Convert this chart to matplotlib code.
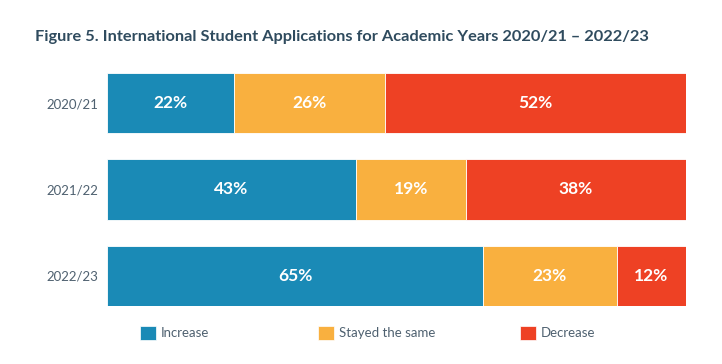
import matplotlib
matplotlib.use("Agg")
import matplotlib.pyplot as plt
from matplotlib.patches import Patch

plt.rcParams['font.family'] = ['Lato', 'DejaVu Sans']

years = ["2020/21", "2021/22", "2022/23"]
series_names = ["Increase", "Stayed the same", "Decrease"]
increase = [22, 43, 65]
stayed = [26, 19, 23]
decrease = [52, 38, 12]
colors = ["#1a8ab6", "#f9b03f", "#ee4124"]

fig = plt.figure(figsize=(7.22, 3.64), dpi=100)
ax = fig.add_axes([107/722, 1-306/364, (686-107)/722, (306-73)/364])

left = [0, 0, 0]
for vals, col, name in zip([increase, stayed, decrease], colors, series_names):
    ax.barh(years, vals, left=left, color=col, height=0.7,
            edgecolor="white", linewidth=0.6, label=name)
    for i, (v, l) in enumerate(zip(vals, left)):
        ax.text(l + v / 2, i, f"{v}%", ha="center", va="center",
                color="white", fontsize=12.5, fontweight="bold")
    left = [a + b for a, b in zip(left, vals)]

ax.set_xlim(0, 100)
ax.set_ylim(2.35, -0.35)
ax.set_xticks([])
for s in ax.spines.values():
    s.set_visible(False)
ax.tick_params(axis="y", length=0, pad=6.5, labelsize=9.5, labelcolor="#4f6170")

fig.text(35/722, 1-37/364, "Figure 5. International Student Applications for Academic Years 2020/21 \u2013 2022/23",
         ha="left", va="center", fontsize=11.8, fontweight="bold", color="#2f4b5e")

legend_x = [140, 318, 520]
for x, c, name in zip(legend_x, colors, series_names):
    fig.legend([Patch(facecolor=c, edgecolor="white", linewidth=0.5)], [name], loc="center left",
               bbox_to_anchor=(x/722, 1-333/364), frameon=False, fontsize=9.5,
               labelcolor="#4f6170", borderpad=0, borderaxespad=0,
               handlelength=1.2, handleheight=1.3, handletextpad=0.4)

fig.savefig("out.png", dpi=100)
